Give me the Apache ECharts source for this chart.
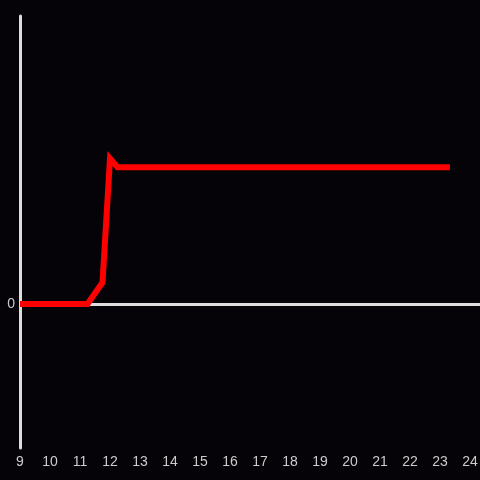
<!DOCTYPE html>
<html>
<head>
<meta charset="utf-8">
<script src="https://cdn.jsdelivr.net/npm/echarts@6/dist/echarts.min.js"></script>
<style>
html,body{margin:0;padding:0;background:#050307;}
#c{width:480px;height:480px;}
</style>
</head>
<body>
<div id="c"></div>
<script>
var hours = [9, 11.25, 11.75, 12.0, 12.25, 14, 16, 18, 20, 22, 23.33];
var values = [0, 0, 0.15, 1.01, 0.95, 0.95, 0.95, 0.95, 0.95, 0.95, 0.95];
var xTicks = [9,10,11,12,13,14,15,16,17,18,19,20,21,22,23,24];
var yLabels = [0];

var chart = echarts.init(document.getElementById('c'));
var data = hours.map(function(h, i){ return [h, values[i]]; });
var clear = 'rgba(0,0,0,0)';
chart.setOption({
  backgroundColor: '#050307',
  animation: false,
  grid: {left: 20, right: 0, top: 16, bottom: 32, outerBoundsMode: 'none', containLabel: false},
  xAxis: {
    type: 'value', min: 9, max: 24.3333, interval: 1,
    axisLine: {show: false}, axisTick: {show: false}, splitLine: {show: false},
    axisLabel: {
      color: '#cccccc', fontSize: 14, fontFamily: 'Liberation Sans', margin: 7,
      formatter: function(v){ return xTicks.indexOf(v) >= 0 ? String(v) : ''; }
    }
  },
  yAxis: {
    type: 'value', min: -1, max: 2, interval: 1,
    axisLine: {show: true, onZero: false, lineStyle: {color: '#dddddd', width: 3}},
    axisTick: {show: false},
    splitLine: {show: true, lineStyle: {color: [clear, '#dddddd', clear, clear], width: 3, type: 'solid'}},
    axisLabel: {
      color: '#cccccc', fontSize: 14, fontFamily: 'Liberation Sans', margin: 5,
      formatter: function(v){ return yLabels.indexOf(v) >= 0 ? String(v) : ''; }
    }
  },
  series: [
    {
      type: 'line', data: data, showSymbol: false, symbol: 'none',
      lineStyle: {color: '#ff0000', width: 6, join: 'miter'}
    }
  ]
});
</script>
</body>
</html>
